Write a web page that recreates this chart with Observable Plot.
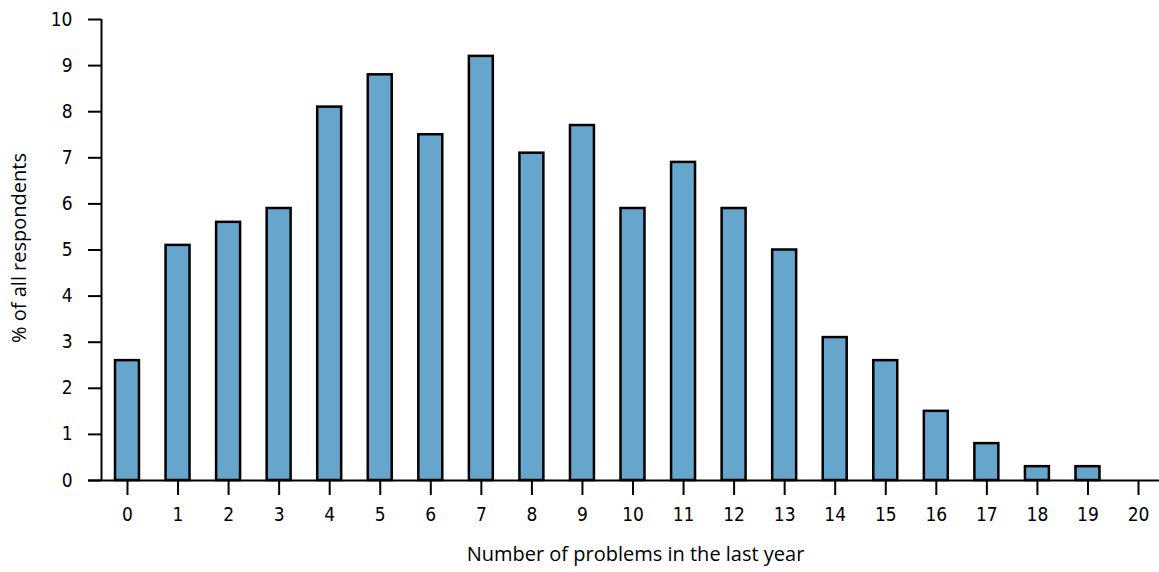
<!DOCTYPE html>
<html>
<head>
<meta charset="utf-8">
<script src="https://cdn.jsdelivr.net/npm/d3@7"></script>
<script src="https://cdn.jsdelivr.net/npm/@observablehq/plot@0.6"></script>
<style>
  html, body { margin: 0; padding: 0; background: #fff; }
  svg { display: block; }
  g[aria-label="x-axis tick label"], g[aria-label="y-axis tick label"] {
    font-size: 19px;
    font-family: 'Liberation Sans Narrow', 'DejaVu Sans Condensed', sans-serif;
    font-stretch: condensed;
  }
  g.xlab, g.ylab { font-size: 20px; font-family: 'Open Sans', sans-serif; }
</style>
</head>
<body>
<div id="chart"></div>
<script>
const problems = [0,1,2,3,4,5,6,7,8,9,10,11,12,13,14,15,16,17,18,19,20];
const percents = [2.6,5.1,5.6,5.9,8.1,8.8,7.5,9.2,7.1,7.7,5.9,6.9,5.9,5.0,3.1,2.6,1.5,0.8,0.3,0.3,0.0];
const yTicks = [0,1,2,3,4,5,6,7,8,9,10];
const xLabel = "Number of problems in the last year";
const yLabel = "% of all respondents";

const data = problems.map((k, i) => ({k, v: percents[i]}));
const half = 0.237;

const chart = Plot.plot({
  width: 1159,
  height: 572,
  marginLeft: 101,
  marginRight: 0,
  marginTop: 19,
  marginBottom: 92,
  style: {fontFamily: "'Open Sans', sans-serif", color: "#000", background: "#fff"},
  x: {domain: [-0.514, 20.415]},
  y: {domain: [0, 10]},
  marks: [
    Plot.rectY(data, {x1: d => d.k - half, x2: d => d.k + half, y: "v", fill: "#66a6cd", stroke: "#000", strokeWidth: 2.5}),
    Plot.ruleY([0], {x1: -0.77, x2: 20.415, stroke: "#000", strokeWidth: 2, clip: false}),
    Plot.ruleX([-0.514], {y1: 0, y2: 10, stroke: "#000", strokeWidth: 2}),
    Plot.axisY({ticks: yTicks, tickSize: 13, tickPadding: 16, strokeWidth: 2, label: null}),
    Plot.axisX({ticks: problems, tickFormat: d => String(d), tickSize: 15, tickPadding: 12, strokeWidth: 2, label: null}),
    Plot.text([xLabel], {frameAnchor: "bottom", dy: 80, dx: 5, fontSize: 20, className: "xlab", text: d => d}),
    Plot.text([yLabel], {frameAnchor: "left", textAnchor: "middle", dx: -82, dy: -2, rotate: -90, fontSize: 20, className: "ylab", text: d => d})
  ]
});
document.getElementById("chart").appendChild(chart);
</script>
</body>
</html>
